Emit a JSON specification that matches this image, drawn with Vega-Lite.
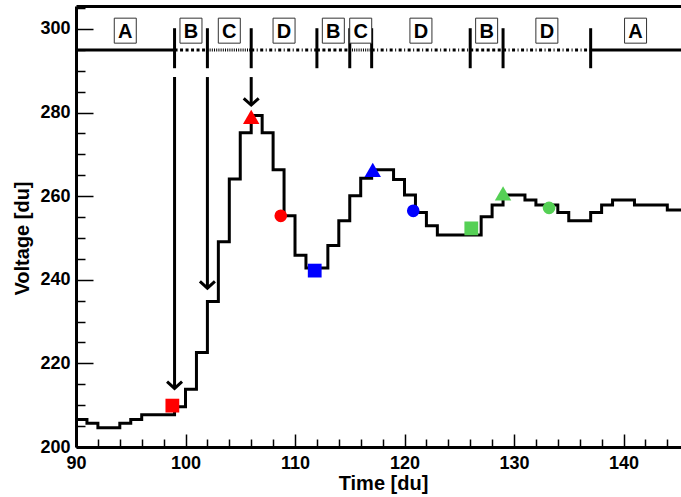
{
  "$schema": "https://vega.github.io/schema/vega-lite/v6.json",
  "width": 605,
  "height": 441,
  "autosize": {"type": "none"},
  "padding": {"left": 76, "top": 6, "right": 0, "bottom": 50},
  "background": "white",
  "config": {
    "view": {"stroke": null},
    "axis": {
      "grid": false,
      "domainColor": "black",
      "tickColor": "black",
      "labelColor": "black",
      "titleColor": "black",
      "labelFont": "Liberation Sans",
      "titleFont": "Liberation Sans",
      "labelFontWeight": "bold",
      "titleFontWeight": "bold",
      "labelFontSize": 18,
      "titleFontSize": 20
    }
  },
  "datasets": {
    "curve": [
      {"t": 90, "v": 206.6}, {"t": 91, "v": 205.7}, {"t": 92, "v": 204.6}, {"t": 93, "v": 204.6},
      {"t": 94, "v": 205.7}, {"t": 95, "v": 206.6}, {"t": 96, "v": 207.7}, {"t": 97, "v": 207.7},
      {"t": 98, "v": 207.7}, {"t": 99, "v": 209.6}, {"t": 100, "v": 213.8}, {"t": 101, "v": 222.6},
      {"t": 102, "v": 234.8}, {"t": 103, "v": 249.1}, {"t": 104, "v": 264.1}, {"t": 105, "v": 275.2},
      {"t": 106, "v": 279.3}, {"t": 107, "v": 275.2}, {"t": 108, "v": 266.3}, {"t": 109, "v": 255.3},
      {"t": 110, "v": 245.9}, {"t": 111, "v": 242.8}, {"t": 112, "v": 242.8}, {"t": 113, "v": 248.2},
      {"t": 114, "v": 254.1}, {"t": 115, "v": 260.1}, {"t": 116, "v": 264.3}, {"t": 117, "v": 266.3},
      {"t": 118, "v": 266.3}, {"t": 119, "v": 264.0}, {"t": 120, "v": 260.3}, {"t": 121, "v": 256.1},
      {"t": 122, "v": 252.9}, {"t": 123, "v": 250.7}, {"t": 124, "v": 250.7}, {"t": 125, "v": 250.7},
      {"t": 126, "v": 250.7}, {"t": 127, "v": 255.1}, {"t": 128, "v": 257.9}, {"t": 129, "v": 260.3},
      {"t": 130, "v": 260.3}, {"t": 131, "v": 259.1}, {"t": 132, "v": 257.9}, {"t": 133, "v": 257.9},
      {"t": 134, "v": 256.1}, {"t": 135, "v": 254.1}, {"t": 136, "v": 254.1}, {"t": 137, "v": 256.1},
      {"t": 138, "v": 257.9}, {"t": 139, "v": 259.1}, {"t": 140, "v": 259.1}, {"t": 141, "v": 257.9},
      {"t": 142, "v": 257.9}, {"t": 143, "v": 257.9}, {"t": 144, "v": 256.7}, {"t": 145.3, "v": 256.7}
    ],
    "segments": [
      {"lab": "A", "t0": 90, "t1": 99, "mid": 94.5},
      {"lab": "B", "t0": 99, "t1": 102, "mid": 100.5},
      {"lab": "C", "t0": 102, "t1": 106, "mid": 104},
      {"lab": "D", "t0": 106, "t1": 112, "mid": 109},
      {"lab": "B", "t0": 112, "t1": 115, "mid": 113.5},
      {"lab": "C", "t0": 115, "t1": 117, "mid": 116},
      {"lab": "D", "t0": 117, "t1": 126, "mid": 121.5},
      {"lab": "B", "t0": 126, "t1": 129, "mid": 127.5},
      {"lab": "D", "t0": 129, "t1": 137, "mid": 133},
      {"lab": "A", "t0": 137, "t1": 145.25, "mid": 141.1}
    ],
    "separators": [
      {"t": 99}, {"t": 102}, {"t": 106}, {"t": 112}, {"t": 115},
      {"t": 117}, {"t": 126}, {"t": 129}, {"t": 137}
    ],
    "arrows": [
      {"t": 99, "from": 288.5, "tip": 214.0},
      {"t": 102, "from": 288.5, "tip": 238.0},
      {"t": 106, "from": 288.5, "tip": 281.8}
    ],
    "markers": [
      {"t": 98.8, "v": 209.9, "grp": "first", "kind": "square"},
      {"t": 106.0, "v": 279.0, "grp": "first", "kind": "triangle"},
      {"t": 108.7, "v": 255.3, "grp": "first", "kind": "circle"},
      {"t": 111.8, "v": 242.2, "grp": "second", "kind": "square"},
      {"t": 117.1, "v": 266.3, "grp": "second", "kind": "triangle"},
      {"t": 120.8, "v": 256.5, "grp": "second", "kind": "circle"},
      {"t": 126.1, "v": 252.3, "grp": "third", "kind": "square"},
      {"t": 129.0, "v": 260.7, "grp": "third", "kind": "triangle"},
      {"t": 133.2, "v": 257.2, "grp": "third", "kind": "circle"}
    ]
  },
  "layer": [
    {
      "data": {"name": "curve"},
      "mark": {"type": "line", "interpolate": "step-after", "color": "black", "strokeWidth": 3, "clip": true},
      "encoding": {
        "x": {
          "field": "t", "type": "quantitative",
          "scale": {"domain": [90, 145.25], "nice": false, "zero": false},
          "axis": {
            "orient": "bottom",
            "values": [90, 100, 110, 120, 130, 140],
            "tickSize": -13, "tickWidth": 1.5, "domainWidth": 3, "labelPadding": 20,
            "labelFlush": false, "labelOverlap": false,
            "title": "Time [du]", "titleX": 307, "titleY": 36, "titleBaseline": "middle"
          }
        },
        "y": {
          "field": "v", "type": "quantitative",
          "scale": {"domain": [200, 305.5], "nice": false, "zero": false},
          "axis": {
            "orient": "left",
            "values": [200, 220, 240, 260, 280, 300],
            "tickSize": -17, "tickWidth": 1.5, "domainWidth": 3, "labelPadding": 23,
            "labelFlush": false, "labelOverlap": false,
            "title": "Voltage [du]", "titleX": -54, "titleY": 232, "titleBaseline": "middle", "titleAngle": -90
          }
        }
      }
    },
    {
      "mark": {"type": "rule", "strokeWidth": 3, "color": "black"},
      "encoding": {
        "y": {"datum": 305.5, "type": "quantitative", "axis": null}
      }
    },
    {
      "data": {"name": "segments"},
      "mark": {"type": "rule", "strokeWidth": 3, "color": "black", "strokeCap": "butt"},
      "encoding": {
        "x": {"field": "t0", "type": "quantitative", "axis": null},
        "x2": {"field": "t1"},
        "y": {"datum": 295, "type": "quantitative", "axis": null},
        "strokeDash": {
          "field": "lab", "type": "nominal", "legend": null,
          "scale": {"domain": ["A", "B", "C", "D"], "range": [[1, 0], [3, 2.5], [1, 1.2], [3, 2.5, 1, 2.5]]}
        }
      }
    },
    {
      "data": {"name": "separators"},
      "mark": {"type": "point", "shape": "M0,-1L0,1", "filled": false, "stroke": "black", "strokeWidth": 3, "size": 1600, "opacity": 1},
      "encoding": {
        "x": {
          "field": "t", "type": "quantitative",
          "axis": {"orient": "top", "labels": false, "ticks": false, "domainWidth": 3, "title": null}
        },
        "y": {"datum": 295.4, "type": "quantitative", "axis": null}
      }
    },
    {
      "data": {"name": "arrows"},
      "mark": {"type": "rule", "strokeWidth": 3, "color": "black"},
      "encoding": {
        "x": {"field": "t", "type": "quantitative", "axis": null},
        "y": {"field": "from", "type": "quantitative", "axis": null},
        "y2": {"field": "tip"}
      }
    },
    {
      "data": {"name": "arrows"},
      "mark": {"type": "point", "shape": "M-1,-0.9L0,0L1,-0.9", "filled": false, "stroke": "black", "strokeWidth": 3, "size": 225, "opacity": 1},
      "encoding": {
        "x": {"field": "t", "type": "quantitative", "axis": null},
        "y": {"field": "tip", "type": "quantitative", "axis": null}
      }
    },
    {
      "data": {"name": "segments"},
      "mark": {"type": "point", "shape": "M-0.88,-1H0.88V1H-0.88Z", "filled": true, "fill": "white", "stroke": "#333333", "strokeWidth": 1, "size": 625, "opacity": 1},
      "encoding": {
        "x": {"field": "mid", "type": "quantitative", "axis": null},
        "y": {"datum": 299.6, "type": "quantitative", "axis": null}
      }
    },
    {
      "data": {"name": "segments"},
      "mark": {"type": "text", "font": "Liberation Sans", "fontWeight": "bold", "fontSize": 20, "baseline": "middle", "align": "center", "dy": 1, "color": "black"},
      "encoding": {
        "x": {"field": "mid", "type": "quantitative", "axis": null},
        "y": {"datum": 299.6, "type": "quantitative", "axis": null},
        "text": {"field": "lab", "type": "nominal"}
      }
    },
    {
      "data": {"name": "markers"},
      "mark": {"type": "point", "filled": true, "opacity": 1},
      "encoding": {
        "x": {
          "field": "t", "type": "quantitative",
          "axis": {
            "orient": "bottom",
            "values": [92, 94, 96, 98, 102, 104, 106, 108, 112, 114, 116, 118, 122, 124, 126, 128, 132, 134, 136, 138, 142, 144],
            "tickSize": -8, "tickWidth": 1.5, "labels": false, "domain": false, "title": null
          }
        },
        "y": {
          "field": "v", "type": "quantitative",
          "axis": {
            "orient": "left",
            "values": [205, 210, 215, 225, 230, 235, 245, 250, 255, 265, 270, 275, 285, 290, 295, 305],
            "tickSize": -9, "tickWidth": 1.5, "labels": false, "domain": false, "title": null
          }
        },
        "color": {
          "field": "grp", "type": "nominal", "legend": null,
          "scale": {"domain": ["first", "second", "third"], "range": ["#ff0000", "#0000ff", "#55d055"]}
        },
        "shape": {
          "field": "kind", "type": "nominal", "legend": null,
          "scale": {"domain": ["square", "triangle", "circle"], "range": ["square", "triangle-up", "circle"]}
        },
        "size": {
          "field": "kind", "type": "nominal", "legend": null,
          "scale": {"type": "ordinal", "domain": ["square", "triangle", "circle"], "range": [190, 270, 160]}
        }
      }
    }
  ],
  "resolve": {"axis": {"x": "independent", "y": "independent"}}
}
